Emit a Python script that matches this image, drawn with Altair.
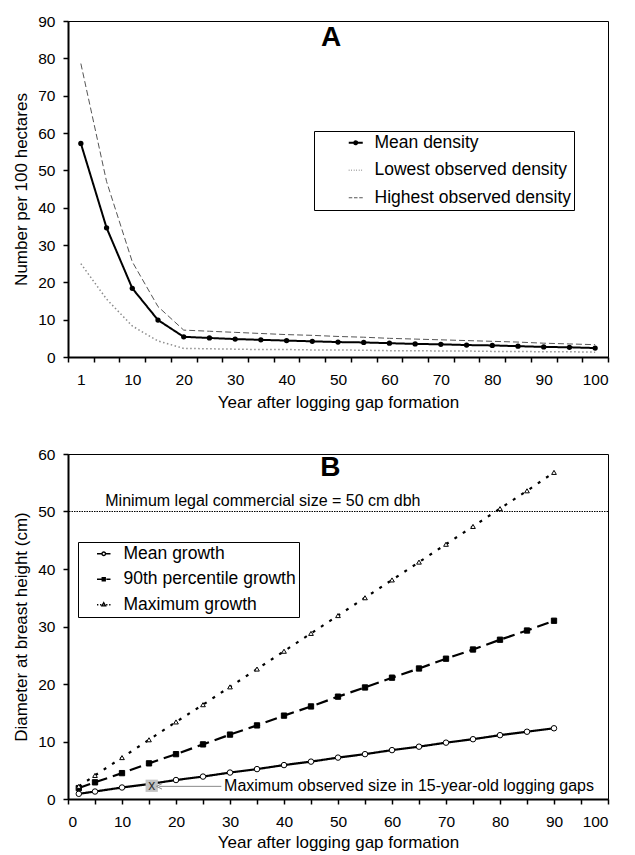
import altair as alt
import pandas as pd

FONT = "Liberation Sans"

# ---------------- Panel A data ----------------
years_a = [1, 5, 10, 15, 20, 25, 30, 35, 40, 45, 50, 55, 60, 65, 70, 75, 80, 85, 90, 95, 100]
mean_density = [57.2, 34.6, 18.4, 9.9, 5.4, 5.1, 4.8, 4.6, 4.4, 4.2, 4.0, 3.9, 3.7, 3.5, 3.4, 3.2, 3.1, 2.9, 2.7, 2.6, 2.4]
lowest_density = [25.0, 15.5, 8.3, 4.3, 2.3, 2.2, 2.1, 2.0, 2.0, 1.9, 1.9, 1.8, 1.7, 1.7, 1.6, 1.6, 1.5, 1.5, 1.4, 1.4, 1.3]
highest_density = [78.6, 47.0, 25.5, 13.5, 7.2, 6.9, 6.6, 6.3, 6.0, 5.8, 5.5, 5.3, 5.0, 4.8, 4.6, 4.4, 4.2, 4.0, 3.7, 3.5, 3.3]
series_a = ["Mean density", "Lowest observed density", "Highest observed density"]

# ---------------- Panel B data ----------------
years_b = [2, 5, 10, 15, 20, 25, 30, 35, 40, 45, 50, 55, 60, 65, 70, 75, 80, 85, 90]
mean_growth = [0.9, 1.3, 2.0, 2.6, 3.3, 3.9, 4.6, 5.2, 5.9, 6.5, 7.2, 7.8, 8.5, 9.1, 9.8, 10.4, 11.1, 11.7, 12.3]
p90_growth = [1.9, 2.9, 4.5, 6.2, 7.8, 9.5, 11.2, 12.8, 14.5, 16.1, 17.8, 19.4, 21.1, 22.7, 24.4, 26.0, 27.7, 29.3, 31.0]
max_growth = [2.2, 4.1, 7.2, 10.3, 13.4, 16.4, 19.5, 22.6, 25.7, 28.8, 31.9, 35.0, 38.1, 41.2, 44.3, 47.4, 50.5, 53.6, 56.8]
series_b = ["Mean growth", "90th percentile growth", "Maximum growth"]

legal_size = [50]
legal_label = ["Minimum legal commercial size = 50 cm dbh"]
obs_year = [15.5]
obs_size = [2.3]
obs_label = ["Maximum observed size in 15-year-old logging gaps"]

# ---------------- tables ----------------
df_a = pd.DataFrame({
    "year": years_a * 3,
    "value": mean_density + lowest_density + highest_density,
    "series": [series_a[0]] * len(years_a) + [series_a[1]] * len(years_a) + [series_a[2]] * len(years_a),
})
df_a_mean = df_a[df_a.series == series_a[0]]

df_b_mean = pd.DataFrame({"year": years_b, "value": mean_growth, "series": series_b[0]})
df_b_p90 = pd.DataFrame({"year": years_b, "value": p90_growth, "series": series_b[1]})
df_b_max = pd.DataFrame({"year": years_b, "value": max_growth, "series": series_b[2]})

# ---------------- legend symbol paths ----------------
PA_MEAN = "M-1,0H1M0.22,0A0.22,0.22,0,1,1,-0.22,0A0.22,0.22,0,1,1,0.22,0Z"
PA_LOW = "M-1,0H-0.9M-0.64,0H-0.54M-0.28,0H-0.18M0.08,0H0.18M0.44,0H0.54M0.8,0H0.9"
PA_HIGH = "M-1,0H-0.5M-0.25,0H0.25M0.5,0H1"

PB_MEAN = "M-1,0H-0.26M0.26,0H1M0.26,0A0.26,0.26,0,1,1,-0.26,0A0.26,0.26,0,1,1,0.26,0Z"
PB_P90 = "M-1,0H-0.22M0.38,0H1M-0.22,-0.22H0.22V0.22H-0.22Z"
PB_MAX = "M-1,0H-0.8M-0.55,0H-0.35M0.35,0H0.55M0.8,0H1M0,-0.3L0.26,0.16L-0.26,0.16Z"


def pick(series, values, default):
    expr = f"'{default}'"
    for s, v in reversed(list(zip(series, values))):
        expr = f"(datum.value === '{s}' ? '{v}' : {expr})"
    return alt.ExprRef(expr=expr)


legend_a = alt.Legend(
    title=None, orient="none", legendX=246, legendY=110,
    strokeColor="black", fillColor="white", padding=3,
    symbolSize=196, symbolOffset=30, labelOffset=10,
    labelFont=FONT, labelFontSize=17.5, labelColor="black",
    rowPadding=8.5, labelLimit=400,
    symbolType=pick(series_a[:2], [PA_MEAN, PA_LOW], PA_HIGH),
    symbolFillColor=pick(series_a[:1], ["black"], "transparent"),
    symbolStrokeWidth=alt.ExprRef(expr=f"datum.value === '{series_a[0]}' ? 1.8 : 1.1"),
    symbolOpacity=1,
)

legend_b = alt.Legend(
    title=None, orient="none", legendX=10, legendY=521,
    strokeColor="black", fillColor="white", padding=3,
    symbolSize=182, symbolOffset=14, labelOffset=11,
    labelFont=FONT, labelFontSize=17.5, labelColor="black",
    rowPadding=6.5, labelLimit=400,
    symbolType=pick(series_b[:2], [PB_MEAN, PB_P90], PB_MAX),
    symbolFillColor=pick(series_b[:2], ["white", "black"], "white"),
    symbolStrokeColor="black",
    symbolStrokeWidth=1.4,
    symbolOpacity=1,
)

# ---------------- Panel A ----------------
xa = alt.X(
    "year:O",
    scale=alt.Scale(type="band", paddingInner=0, paddingOuter=0),
    bandPosition=0.5,
    axis=alt.Axis(
        tickBand="extent", labelAngle=0, labelOverlap=False, labelPadding=10,
        labelExpr="(datum.value == 1 || datum.value % 10 == 0) ? datum.label : ''",
        title="Year after logging gap formation", titlePadding=7,
    ),
)
ya = alt.Y(
    "value:Q",
    scale=alt.Scale(domain=[0, 90], nice=False),
    axis=alt.Axis(values=list(range(0, 91, 10)), title="Number per 100 hectares",
                  labelPadding=8, titlePadding=7),
)

lines_a = alt.Chart(df_a).mark_line().encode(
    x=xa, y=ya,
    color=alt.Color("series:N", scale=alt.Scale(domain=series_a, range=["black", "#8c8c8c", "#555555"]),
                    legend=legend_a),
    strokeDash=alt.StrokeDash("series:N", scale=alt.Scale(domain=series_a, range=[[1, 0], [1.5, 2.5], [6, 3]]),
                              legend=None),
    strokeWidth=alt.StrokeWidth("series:N", scale=alt.Scale(domain=series_a, range=[2, 1, 1]), legend=None),
)
pts_a = alt.Chart(df_a_mean).mark_point(filled=True, color="black", size=28, opacity=1).encode(x=xa, y=ya)

label_a = alt.Chart(pd.DataFrame({"year": [50], "value": [85.5], "t": ["A"]})).mark_text(
    font=FONT, fontSize=28, fontWeight="bold", color="black", dx=-7, baseline="middle"
).encode(x=xa, y=ya, text="t:N")

chart_a = alt.layer(lines_a, pts_a, label_a).properties(width=540, height=336)

# ---------------- Panel B ----------------
xb = alt.X(
    "year:Q",
    scale=alt.Scale(domain=[0, 100], nice=False),
    axis=alt.Axis(values=list(range(0, 101, 5)), labelOverlap=False, labelPadding=10,
                  labelExpr="datum.value % 10 == 0 ? datum.label : ''",
                  title="Year after logging gap formation", titlePadding=5),
)
yb = alt.Y(
    "value:Q",
    scale=alt.Scale(domain=[0, 60], nice=False),
    axis=alt.Axis(values=list(range(0, 61, 10)), title="Diameter at breast height (cm)",
                  labelPadding=8, titlePadding=7),
)
op_b = alt.Opacity("series:N", scale=alt.Scale(domain=series_b, range=[1, 1, 1]), legend=legend_b)

rule_b = alt.Chart(pd.DataFrame({"value": legal_size})).mark_rule(
    color="black", strokeWidth=1, strokeDash=[1.5, 1]
).encode(y=yb)


def series_layers(df, dash, shape, fill, size, legend_channel=False):
    enc = dict(x=xb, y=yb)
    if legend_channel:
        enc["opacity"] = op_b
    line = alt.Chart(df).mark_line(color="black", strokeWidth=2.2, strokeDash=dash).encode(**enc)
    pts = alt.Chart(df).mark_point(shape=shape, fill=fill, stroke="black", strokeWidth=1,
                                   size=size, opacity=1, filled=False).encode(x=xb, y=yb)
    return line, pts


l_mean, p_mean = series_layers(df_b_mean, [1, 0], "circle", "white", 30, legend_channel=True)
l_p90, p_p90 = series_layers(df_b_p90, [12, 6], "square", "black", 28)
l_max, p_max = series_layers(df_b_max, [3, 7], "triangle-up", "white", 22)

# a legend-only carrier so every series name is in the opacity legend
legend_carrier = alt.Chart(pd.DataFrame({"year": years_b[:1] * 3, "value": [mean_growth[0], p90_growth[0], max_growth[0]],
                                         "series": series_b})).mark_line(strokeWidth=0).encode(
    x=xb, y=yb, opacity=op_b)

label_b = alt.Chart(pd.DataFrame({"year": [48.6], "value": [57.5], "t": ["B"]})).mark_text(
    font=FONT, fontSize=28, fontWeight="bold", color="black", baseline="middle"
).encode(x=xb, y=yb, text="t:N")

legal_text = alt.Chart(pd.DataFrame({"year": [6.9], "value": [51.0], "t": legal_label})).mark_text(
    font=FONT, fontSize=16, color="black", align="left", baseline="alphabetic"
).encode(x=xb, y=yb, text="t:N")

obs_box = alt.Chart(pd.DataFrame({"year": obs_year, "value": obs_size})).mark_square(
    color="#c4c4c4", size=150, opacity=1
).encode(x=xb, y=yb)
obs_x = alt.Chart(pd.DataFrame({"year": obs_year, "value": obs_size, "t": ["x"]})).mark_text(
    font=FONT, fontSize=14, color="#333333", baseline="middle"
).encode(x=xb, y=yb, text="t:N")
arrow_line = alt.Chart(pd.DataFrame({"year": [16.9], "year2": [28.4], "value": [2.2]})).mark_rule(
    color="#8a8a8a", strokeWidth=1
).encode(x=xb, x2="year2:Q", y=yb)
arrow_head = alt.Chart(pd.DataFrame({"year": [16.9], "value": [2.2]})).mark_point(
    shape="M1,-1L-1,0L1,1", size=30, stroke="#8a8a8a", strokeWidth=1, filled=False, opacity=1
).encode(x=xb, y=yb)
obs_text = alt.Chart(pd.DataFrame({"year": [28.9], "value": [1.35], "t": obs_label})).mark_text(
    font=FONT, fontSize=16, color="black", align="left", baseline="alphabetic"
).encode(x=xb, y=yb, text="t:N")

chart_b = alt.layer(
    rule_b, legend_carrier, l_mean, l_p90, l_max, p_mean, p_p90, p_max,
    label_b, legal_text, obs_box, obs_x, arrow_line, arrow_head, obs_text
).properties(width=540, height=345)

chart = alt.vconcat(chart_a, chart_b, spacing=35).properties(
    padding={"left": 4, "top": 5, "right": 5, "bottom": 2}
).configure_view(
    stroke="black", strokeWidth=1
).configure_axis(
    domainColor="black", domainWidth=2, tickColor="black", tickSize=5, tickWidth=1.5,
    labelFont=FONT, labelFontSize=15.5, labelColor="black",
    titleFont=FONT, titleFontSize=17, titleFontWeight="normal", titleColor="black",
    grid=False,
)

chart.save("out.html", embed_options={"renderer": "svg", "actions": False})
